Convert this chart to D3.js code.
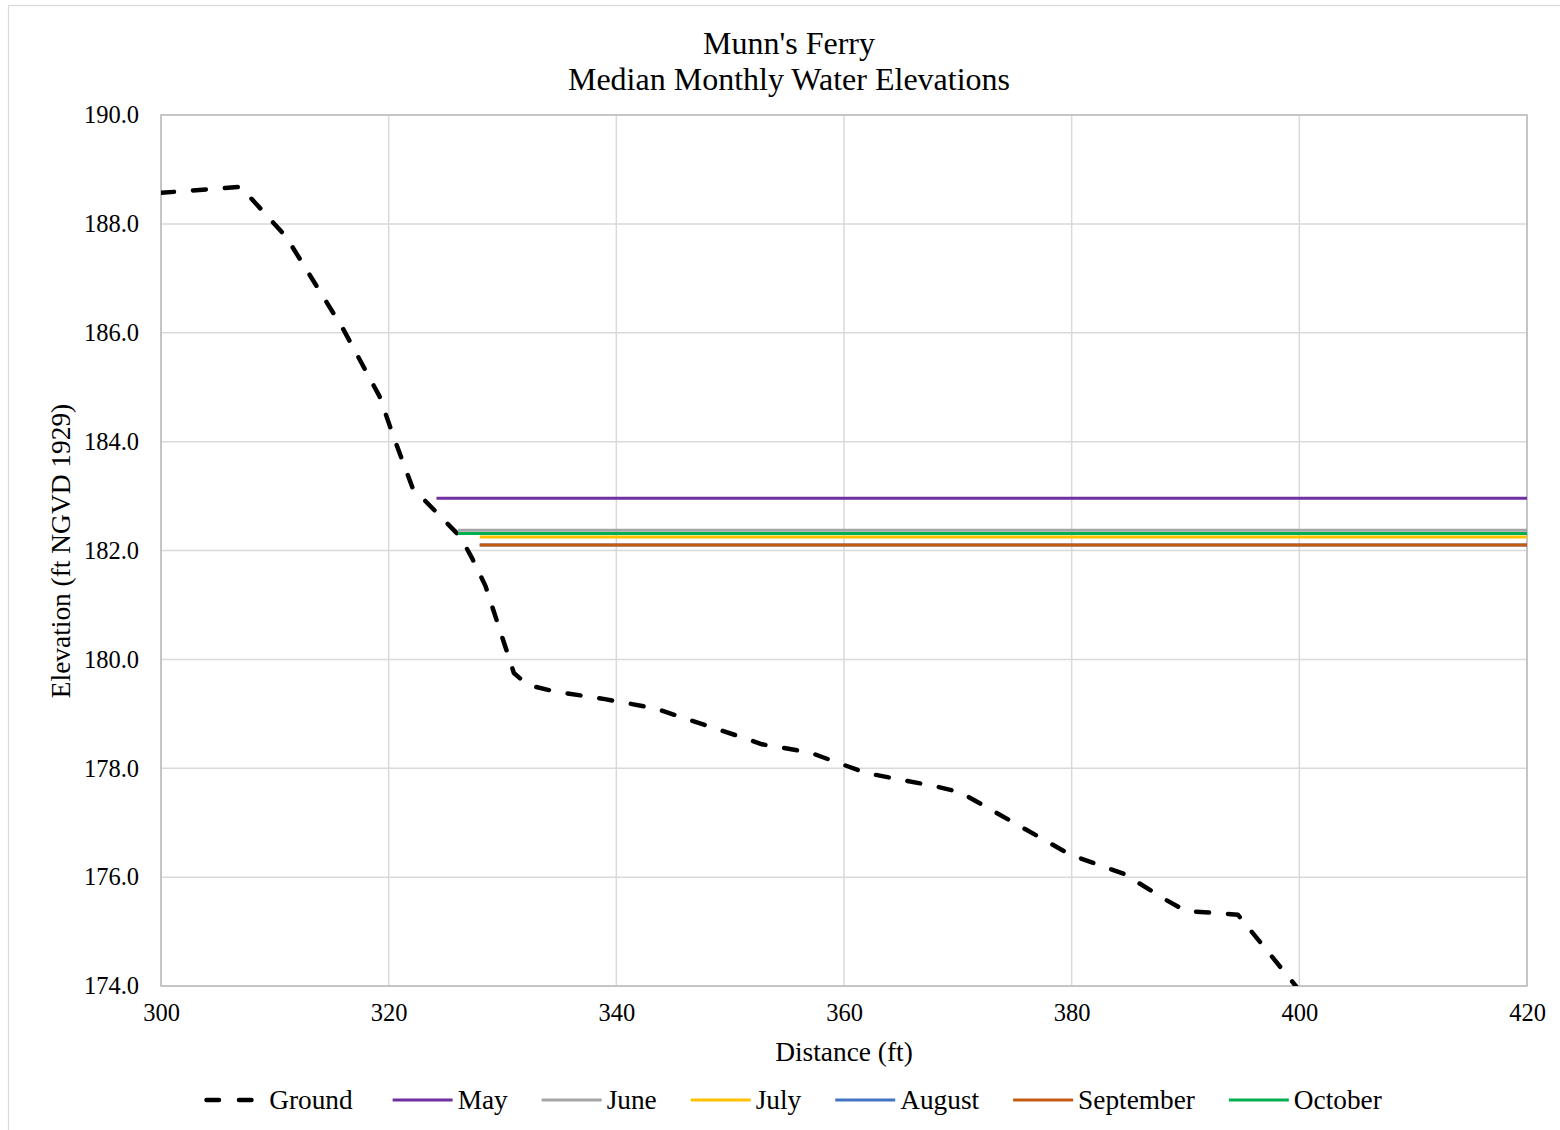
<!DOCTYPE html>
<html>
<head>
<meta charset="utf-8">
<script src="https://cdn.jsdelivr.net/npm/d3@7"></script>
<style>
  html, body { margin: 0; padding: 0; background: #fff; }
  svg { display: block; }
  text { font-family: "Liberation Serif", "Times New Roman", serif; fill: #000; }
</style>
</head>
<body>
<svg id="chart" width="1560" height="1130"></svg>
<script>
// Cross-section profile (distance ft, elevation ft NGVD 1929)
const groundDistance = [300, 307, 311, 316, 319.2, 320.5, 322.1, 326.3, 327.3, 328.5, 330.3, 331.0, 332.2, 334.6,
  339, 343.4, 351.3, 352.8, 357, 359.6, 362, 368, 370.2, 379.9, 384.6, 388.3, 390, 394.6, 400];
const groundElevation = [188.57, 188.68, 187.76, 186.07, 184.83, 184.05, 183.15, 182.25, 181.87, 181.35, 180.2, 179.75, 179.53, 179.41,
  179.27, 179.1, 178.55, 178.44, 178.29, 178.09, 177.91, 177.67, 177.56, 176.41, 176.06, 175.58, 175.38, 175.31, 173.92];

// Median monthly water surfaces: start distance, elevation
const months = ["May", "June", "July", "August", "September", "October"];
const waterStart = [324.2, 326.1, 328.0, 328.0, 328.0, 326.1];
const waterElevation = [182.96, 182.37, 182.25, 182.10, 182.10, 182.31];
const waterEnd = 420;
const monthColors = ["#7030a0", "#a5a5a5", "#ffc000", "#4472c4", "#c55a11", "#00b050"];

const xTicks = [300, 320, 340, 360, 380, 400, 420];
const yTicks = [174, 176, 178, 180, 182, 184, 186, 188, 190];

const svg = d3.select("#chart");
const plot = { left: 161, top: 115, width: 1366, height: 871 };

const x = d3.scaleLinear().domain([300, 420]).range([plot.left, plot.left + plot.width]);
const y = d3.scaleLinear().domain([174, 190]).range([plot.top + plot.height, plot.top]);

// outer chart frame
svg.append("rect").attr("x", 8.5).attr("y", 5.5).attr("width", 1570).attr("height", 1140)
  .attr("fill", "#fff").attr("stroke", "#d9d9d9").attr("stroke-width", 1.2);

// title
const title = svg.append("text").attr("text-anchor", "middle").attr("font-size", 32);
title.append("tspan").attr("x", 789).attr("y", 54).text("Munn's Ferry");
title.append("tspan").attr("x", 789).attr("y", 90).text("Median Monthly Water Elevations");

// gridlines
svg.append("g").selectAll("line").data(yTicks).join("line")
  .attr("x1", plot.left).attr("x2", plot.left + plot.width)
  .attr("y1", d => y(d)).attr("y2", d => y(d))
  .attr("stroke", "#d9d9d9").attr("stroke-width", 1.5);
svg.append("g").selectAll("line").data(xTicks).join("line")
  .attr("y1", plot.top).attr("y2", plot.top + plot.height)
  .attr("x1", d => x(d)).attr("x2", d => x(d))
  .attr("stroke", "#d9d9d9").attr("stroke-width", 1.5);

// axes (labels only; frame drawn separately)
const yAxis = svg.append("g").attr("transform", `translate(${plot.left},0)`)
  .call(d3.axisLeft(y).tickValues(yTicks).tickFormat(d3.format(".1f")).tickSize(0).tickPadding(22));
yAxis.select(".domain").remove();
yAxis.selectAll("text").attr("font-size", 24.5).attr("font-family", "Liberation Serif").attr("fill", "#000");

const xAxis = svg.append("g").attr("transform", `translate(0,${plot.top + plot.height})`)
  .call(d3.axisBottom(x).tickValues(xTicks).tickFormat(d3.format("d")).tickSize(0).tickPadding(18));
xAxis.select(".domain").remove();
xAxis.selectAll("text").attr("font-size", 24.5).attr("font-family", "Liberation Serif").attr("fill", "#000");

// plot frame
svg.append("rect").attr("x", plot.left).attr("y", plot.top)
  .attr("width", plot.width).attr("height", plot.height)
  .attr("fill", "none").attr("stroke", "#bfbfbf").attr("stroke-width", 1.6);

svg.append("clipPath").attr("id", "plotClip").append("rect")
  .attr("x", plot.left).attr("y", plot.top).attr("width", plot.width).attr("height", plot.height);

const series = svg.append("g").attr("clip-path", "url(#plotClip)");

// ground profile
const groundPts = groundDistance.map((d, i) => [d, groundElevation[i]]);
const line = d3.line().x(d => x(d[0])).y(d => y(d[1]));
series.append("path").datum(groundPts).attr("d", line)
  .attr("fill", "none").attr("stroke", "#000").attr("stroke-width", 4.5)
  .attr("stroke-linecap", "round").attr("stroke-linejoin", "round").attr("stroke-dasharray", "13 19");

// water surfaces
months.forEach((m, i) => {
  series.append("path")
    .datum([[waterStart[i], waterElevation[i]], [waterEnd, waterElevation[i]]])
    .attr("d", d3.line().x(d => x(d[0])).y(d => y(d[1])))
    .attr("fill", "none").attr("stroke", monthColors[i]).attr("stroke-width", 3);
});

// axis titles
svg.append("text").attr("x", 844).attr("y", 1061).attr("text-anchor", "middle")
  .attr("font-size", 27.4).text("Distance (ft)");
svg.append("text").attr("transform", "translate(70,551) rotate(-90)").attr("text-anchor", "middle")
  .attr("font-size", 27.4).text("Elevation (ft NGVD 1929)");

// legend
const legendNames = ["Ground"].concat(months);
const legendColors = ["#000"].concat(monthColors);
const legend = svg.append("g");
const legendY = 1100;
const sampleW = 60, textGap = 5, itemGap = 34;
const items = legendNames.map((name, i) => {
  const g = legend.append("g");
  const tx = i === 0 ? 65 : sampleW + textGap;
  const t = g.append("text").attr("x", tx).attr("y", legendY + 9)
    .attr("font-size", 27.3).text(name);
  const ln = g.append("line").attr("x1", i === 0 ? 2.25 : 0).attr("x2", i === 0 ? 47.75 : sampleW)
    .attr("y1", legendY).attr("y2", legendY).attr("stroke", legendColors[i]);
  if (i === 0) {
    ln.attr("stroke-width", 4.5).attr("stroke-linecap", "round").attr("stroke-dasharray", "12.5 20");
  } else {
    ln.attr("stroke-width", 3);
  }
  return { g, w: tx + t.node().getComputedTextLength() + (i === 0 ? 6 : 0) };
});
const total = d3.sum(items, d => d.w) + itemGap * (items.length - 1);
let cx = 793 - total / 2;
items.forEach(it => { it.g.attr("transform", `translate(${cx},0)`); cx += it.w + itemGap; });
</script>
</body>
</html>
